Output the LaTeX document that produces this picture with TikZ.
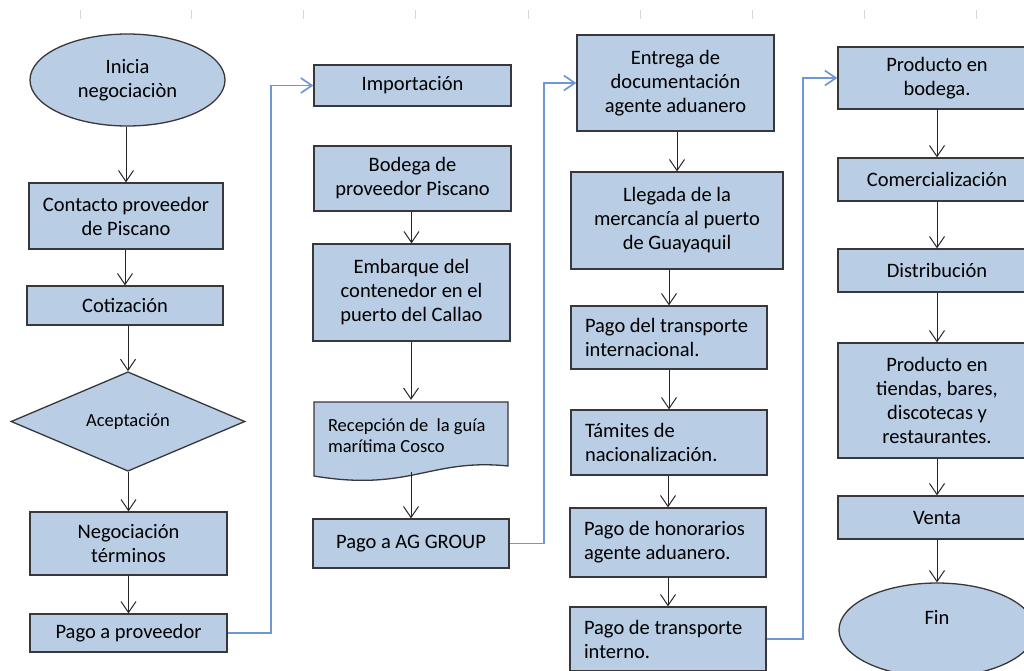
\documentclass[tikz,border=0pt]{standalone}
\usepackage{fontspec}
\setmainfont{Carlito}
\usetikzlibrary{shapes.geometric,arrows.meta}
\definecolor{boxfill}{RGB}{185,205,229}
\definecolor{boxline}{RGB}{55,55,60}
\definecolor{linkblue}{RGB}{110,152,212}
\definecolor{gridgray}{RGB}{215,215,215}
\begin{document}
\begin{tikzpicture}[x=1pt,y=-1pt,
  every node/.style={font=\fontsize{20.5}{24}\selectfont},
  box/.style={draw=boxline, fill=boxfill, line width=1.3pt, inner sep=0pt, align=center},
  lbox/.style={box, align=flush left, text width=168pt},
  term/.style={box, ellipse},
  flow/.style={draw=black!85, line width=1pt, -{Straight Barb[length=11pt,width=15pt]}},
  link/.style={draw=linkblue, line width=1.7pt, -{Straight Barb[length=11pt,width=15pt]}}]
  \path[use as bounding box, clip] (0,0) rectangle (1024,670);
  % sheet grid ticks
  \foreach \gx in {80,191,303,415,528,640,752,864,976}
    \draw[gridgray, line width=0.8pt] (\gx,10) -- (\gx,19);

  % negociacion
  \node[term, minimum width=195pt, minimum height=92pt] (inicio) at (127.5,80) {Inicia\\negociaciòn};
  \node[box, minimum width=194pt, minimum height=66pt] (contacto) at (126,216) {Contacto proveedor\\de Piscano};
  \node[box, minimum width=196pt, minimum height=39pt] (cotiz) at (125,305.5) {Cotización};
  \node[box, diamond, minimum width=234pt, minimum height=91pt,
    font=\fontsize{18.5}{21}\selectfont] (acept) at (128,421.5) {Aceptación};
  \node[box, minimum width=197pt, minimum height=63pt] (negoc) at (128.5,543.5) {Negociación\\términos};
  \node[box, minimum width=197pt, minimum height=38pt] (pagoprov) at (128.5,633) {Pago a proveedor};

  % importacion
  \node[box, minimum width=197pt, minimum height=41pt] (import) at (412.5,85.5) {Importación};
  \node[box, minimum width=197pt, minimum height=65pt] (bodega) at (412.5,178.5) {Bodega de\\proveedor Piscano};
  \node[box, minimum width=197pt, minimum height=97pt] (embarque) at (411.5,292.5) {Embarque del\\contenedor en el\\puerto del Callao};
  \filldraw[draw=boxline, fill=boxfill, line width=1.3pt] (314,402) -- (508,402) -- (508,466)
    .. controls (430,458) and (410,492) .. (314,476) -- cycle;
  \node[inner sep=0pt, minimum height=72pt, text width=166pt, align=flush left,
    font=\fontsize{18.5}{21}\selectfont] (recep) at (411,436) {Recepción de\ \ la guía\\marítima Cosco};
  \node[box, minimum width=196pt, minimum height=49pt] (pagoag) at (411,543.5) {Pago a AG GROUP};

  % aduana
  \node[box, minimum width=197pt, minimum height=96pt] (entrega) at (675.5,83) {Entrega de\\documentación\\agente aduanero};
  \node[box, minimum width=212pt, minimum height=97pt] (llegada) at (677,220.5) {Llegada de la\\mercancía al puerto\\de Guayaquil};
  \node[lbox, minimum width=196pt, minimum height=63pt] (pagoint) at (669,337.5) {Pago del transporte\\internacional.};
  \node[lbox, minimum width=196pt, minimum height=65pt] (tramites) at (669,442.5) {Támites de\\nacionalización.};
  \node[lbox, minimum width=196pt, minimum height=69pt] (honor) at (668,542.5) {Pago de honorarios\\agente aduanero.};
  \node[lbox, minimum width=196pt, minimum height=64pt] (interno) at (668,639) {Pago de transporte\\interno.};

  % venta
  \node[box, minimum width=198pt, minimum height=62pt] (prodbod) at (937,78) {Producto en\\bodega.};
  \node[box, minimum width=198pt, minimum height=43pt] (comerc) at (937,179.5) {Comercialización};
  \node[box, minimum width=198pt, minimum height=43pt] (distrib) at (937,270.5) {Distribución};
  \node[box, minimum width=198pt, minimum height=115pt] (prodtien) at (937,400.5) {Producto en\\tiendas, bares,\\discotecas y\\restaurantes.};
  \node[box, minimum width=198pt, minimum height=43pt] (venta) at (937,517.5) {Venta};
  \node[term, minimum width=196pt, minimum height=94pt, text depth=26pt] (fin) at (937,630) {Fin};

  \foreach \a/\b in {inicio/contacto, contacto/cotiz, cotiz/acept, acept/negoc, negoc/pagoprov,
      bodega/embarque, embarque/recep, recep/pagoag,
      entrega/llegada, llegada/pagoint, pagoint/tramites, tramites/honor, honor/interno,
      prodbod/comerc, comerc/distrib, distrib/prodtien, prodtien/venta, venta/fin}
    \draw[flow] (\a.south -| \b.north) -- (\b.north);

  \draw[link] (pagoprov.east) -- ++(43,0) |- (import.west);
  \draw[link] (pagoag.east) -- ++(34,0) |- (entrega.west);
  \draw[link] (interno.east) -- ++(36,0) |- (prodbod.west);
\end{tikzpicture}
\end{document}
